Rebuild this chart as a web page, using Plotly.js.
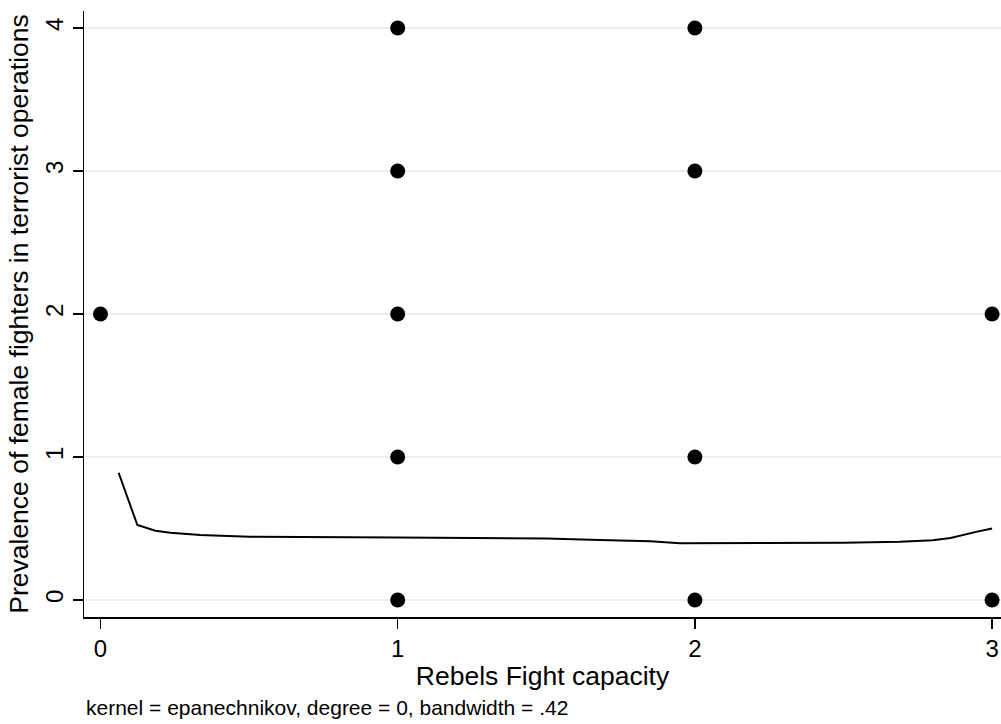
<!DOCTYPE html>
<html>
<head>
<meta charset="utf-8">
<script src="https://cdn.plot.ly/plotly-3.0.1.min.js"></script>
<style>html,body{margin:0;padding:0;background:#fff;}#chart{width:1001px;height:724px;}</style>
</head>
<body>
<div id="chart"></div>
<script>
// Scatter observations
const pointX = [0, 1, 1, 1, 1, 1, 2, 2, 2, 2, 3, 3];
const pointY = [2, 0, 1, 2, 3, 4, 0, 1, 3, 4, 0, 2];
// Local polynomial smooth
const smoothX = [0.061, 0.124, 0.185, 0.235, 0.336, 0.5, 1.0, 1.5, 1.68, 1.85, 1.95, 2.2, 2.5, 2.69, 2.8, 2.86, 2.92, 2.95, 3.0];
const smoothY = [0.89, 0.524, 0.484, 0.47, 0.454, 0.442, 0.437, 0.43, 0.419, 0.41, 0.397, 0.397, 0.40, 0.407, 0.418, 0.433, 0.466, 0.478, 0.50];
const xTicks = [0, 1, 2, 3];
const yTicks = [0, 1, 2, 3, 4];
const xTitle = "Rebels Fight capacity";
const yTitle = "Prevalence of female fighters in terrorist operations";
const note = "kernel = epanechnikov, degree = 0, bandwidth = .42";

const font = "Liberation Sans, Arial, Helvetica, sans-serif";

const traces = [
  {x: pointX, y: pointY, type: "scatter", mode: "markers",
   marker: {color: "#000", size: 15}, hoverinfo: "skip", cliponaxis: false},
  {x: smoothX, y: smoothY, type: "scatter", mode: "lines",
   line: {color: "#000", width: 2}, hoverinfo: "skip"}
];

const layout = {
  width: 1001, height: 724,
  margin: {l: 84, r: 0, t: 11, b: 107},
  paper_bgcolor: "#fff", plot_bgcolor: "#fff",
  showlegend: false,
  font: {family: font, color: "#000"},
  xaxis: {
    range: [-0.0555, 3.03], tickvals: xTicks, ticktext: xTicks.map(String),
    showgrid: false, zeroline: false, showline: true, linecolor: "#000", linewidth: 1.5,
    ticks: "outside", ticklen: 10, tickwidth: 1.5, tickcolor: "#000",
    tickfont: {size: 24, family: font},
    title: {text: xTitle, font: {size: 26.5, family: font}, standoff: 5}
  },
  yaxis: {
    range: [-0.119, 4.119], tickvals: yTicks, ticktext: yTicks.map(String),
    showgrid: true, gridcolor: "#e9f0f2", gridwidth: 2,
    zeroline: false, showline: true, linecolor: "#000", linewidth: 1.5,
    ticks: "outside", ticklen: 10, tickwidth: 1.5, tickcolor: "#000",
    tickangle: -90,
    tickfont: {size: 24, family: font},
    title: {text: yTitle, font: {size: 26.5, family: font}, standoff: 4}
  },
  annotations: [{
    text: note, xref: "paper", yref: "paper", x: 0.0, y: -0.150,
    xanchor: "left", yanchor: "middle", showarrow: false,
    font: {size: 21, family: font, color: "#000"}
  }]
};

Plotly.newPlot("chart", traces, layout, {displayModeBar: false, staticPlot: true});
</script>
</body>
</html>
